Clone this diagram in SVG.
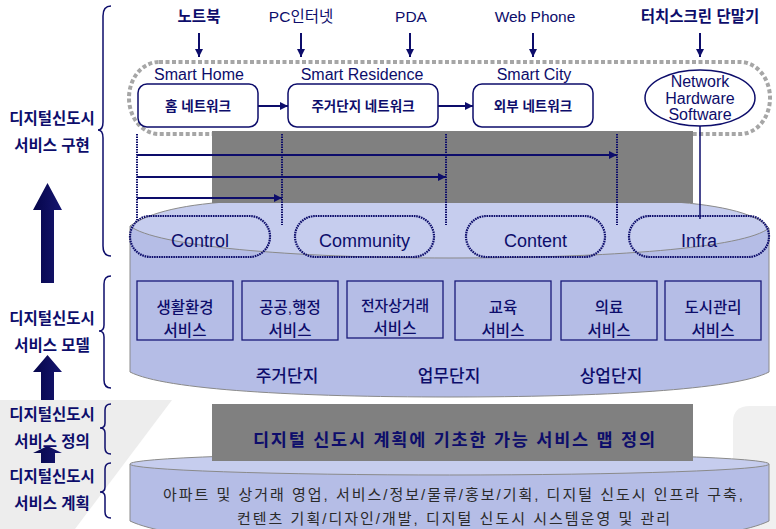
<svg xmlns="http://www.w3.org/2000/svg" width="776" height="529" viewBox="0 0 776 529">
<style>
text{font-family:"Liberation Sans","Noto Sans CJK KR",sans-serif;fill:#0d0d6b;text-anchor:middle}
.b{font-weight:bold}
.md{font-weight:500}
.ln{stroke:#0d0d6b;stroke-width:2;fill:none}
.dot{stroke:#0d0d6b;stroke-width:2;stroke-dasharray:1.6 0.9;fill:none}
.box{fill:none;stroke:#1a1a7a;stroke-width:1.3}
.rb{fill:#fff;stroke:#0d0d6b;stroke-width:1.5}
.pill{fill:none;stroke:#0d0d6b;stroke-width:2.2;stroke-dasharray:1.6 0.8}
.cyl{fill:#b5bde6;stroke:#8a8a8a;stroke-width:1}
.cylt{fill:#c6cdee;stroke:#8a8a8a;stroke-width:1}
.grey{fill:#808080}
.brace{fill:none;stroke:#0d0d6b;stroke-width:1.5}
.big{fill:url(#g)}
</style>
<defs>
<marker id="a" viewBox="0 0 10 10" refX="10" refY="5" markerWidth="10" markerHeight="8" markerUnits="userSpaceOnUse" orient="auto"><path d="M0,0L10,5L0,10z" fill="#0d0d6b"/></marker>
<linearGradient id="g" x1="0" y1="0" x2="1" y2="0"><stop offset="0" stop-color="#05054a"/><stop offset="1" stop-color="#161670"/></linearGradient>
</defs>

<g id="watermark">
<path d="M0,400 L172,400 L75,529 L0,529 Z" fill="#ededed"/>
<path d="M733,529 L733,422 Q733,406 750,406 L776,406 L776,529 Z" fill="#f0f0f0"/>
</g>

<g id="left-labels">
<path class="big" d="M47.5,183 L62,210 L54,210 L54,283 L41,283 L41,210 L33,210 Z"/>
<path class="big" d="M47.5,355 L62,372 L54,372 L54,400 L41,400 L41,372 L33,372 Z"/>
<path class="big" d="M47.5,446 L62,453 L55,453 L55,463 L41,463 L41,453 L33,453 Z"/>
<text class="b" x="52" y="124" font-size="15.5">디지털신도시</text>
<text class="b" x="52" y="151" font-size="15.5">서비스 구현</text>
<text class="b" x="52" y="324" font-size="15.5">디지털신도시</text>
<text class="b" x="52" y="351" font-size="15.5">서비스 모델</text>
<text class="b" x="52" y="420" font-size="15.5">디지털신도시</text>
<text class="b" x="52" y="447" font-size="15.5">서비스 정의</text>
<text class="b" x="52" y="482" font-size="15.5">디지털신도시</text>
<text class="b" x="52" y="509" font-size="15.5">서비스 계획</text>
<path class="brace" d="M111,6 Q103,6 103,16 L103,122 Q103,130 98,130 Q103,130 103,138 L103,246 Q103,256 111,256"/>
<path class="brace" d="M111,276 Q104,276 104,284 L104,325 Q104,331 99,331 Q104,331 104,337 L104,380 Q104,388 111,388"/>
<path class="brace" d="M111,404 Q105,404 105,410 L105,423 Q105,428 100,428 Q105,428 105,433 L105,448 Q105,454 111,454"/>
<path class="brace" d="M111,463 Q105,463 105,469 L105,487 Q105,492 100,492 Q105,492 105,497 L105,512 Q105,518 111,518"/>
</g>

<g id="devices">
<text class="b" x="199" y="22" font-size="15.5">노트북</text>
<text x="301" y="22" font-size="15.5">PC인터넷</text>
<text x="411" y="22" font-size="15.5">PDA</text>
<text x="535" y="22" font-size="15.5">Web Phone</text>
<text class="b" x="700" y="22" font-size="15.5">터치스크린 단말기</text>
</g>

<rect id="smart-group" x="129" y="62" width="641" height="72" rx="30" ry="36" fill="none" stroke="#a6a6a6" stroke-width="4" stroke-dasharray="4 2.5"/>

<g id="smart-home">
<text x="199" y="80" font-size="16">Smart Home</text>
<rect class="rb" x="138" y="84" width="120" height="43" rx="9"/>
<text class="b" x="198" y="111" font-size="13.5">홈 네트워크</text>
</g>
<g id="smart-residence">
<text x="362" y="80" font-size="16">Smart Residence</text>
<rect class="rb" x="288" y="84" width="150" height="43" rx="9"/>
<text class="b" x="363" y="111" font-size="13.5">주거단지 네트워크</text>
</g>
<g id="smart-city">
<text x="534" y="80" font-size="16">Smart City</text>
<rect class="rb" x="473" y="84" width="120" height="43" rx="9"/>
<text class="b" x="533" y="111" font-size="13.5">외부 네트워크</text>
</g>
<g id="nhs">
<ellipse class="rb" cx="700" cy="98" rx="55" ry="28"/>
<text x="700" y="87" font-size="16">Network</text>
<text x="700" y="104" font-size="16">Hardware</text>
<text x="700" y="120" font-size="16">Software</text>
</g>

<g id="service-model">
<path class="cyl" d="M130,226 L130,372 C165,390 300,397 449,397 C600,397 735,390 769,372 L769,228 Z"/>
<path class="cylt" d="M130,226 C150,212 185,204 240,201 L660,201 C715,204 755,212 769,228 C745,248 610,258 449,258 C290,258 155,246 130,226 Z"/>
<rect class="grey" x="212" y="131" width="481" height="72"/>
</g>

<g id="connectors">
<line class="ln" x1="199" y1="33" x2="199" y2="57" marker-end="url(#a)"/>
<line class="ln" x1="301" y1="33" x2="301" y2="57" marker-end="url(#a)"/>
<line class="ln" x1="410" y1="33" x2="410" y2="57" marker-end="url(#a)"/>
<line class="ln" x1="533" y1="33" x2="533" y2="57" marker-end="url(#a)"/>
<line class="ln" x1="700" y1="33" x2="700" y2="57" marker-end="url(#a)"/>
<line class="ln" x1="258" y1="106" x2="288" y2="106" marker-end="url(#a)"/>
<line class="ln" x1="438" y1="106" x2="473" y2="106" marker-end="url(#a)"/>
<line class="dot" x1="137" y1="134" x2="137" y2="220"/>
<line class="dot" x1="282" y1="134" x2="282" y2="225"/>
<line class="dot" x1="446" y1="134" x2="446" y2="225"/>
<line class="dot" x1="617" y1="134" x2="617" y2="225"/>
<line class="ln" x1="137" y1="155" x2="617" y2="155" marker-end="url(#a)"/>
<line class="ln" x1="137" y1="177" x2="446" y2="177" marker-end="url(#a)"/>
<line class="ln" x1="137" y1="198" x2="282" y2="198" marker-end="url(#a)"/>
<line x1="700" y1="126" x2="700" y2="219" stroke="#0d0d6b" stroke-width="1.5"/>
</g>

<g id="control"><rect class="pill" x="130" y="216" width="140" height="41" rx="20.5"/><text x="200" y="247" font-size="18">Control</text></g>
<g id="community"><rect class="pill" x="295" y="216" width="139" height="41" rx="20.5"/><text x="364.5" y="247" font-size="18">Community</text></g>
<g id="content"><rect class="pill" x="466" y="216" width="139" height="41" rx="20.5"/><text x="535.5" y="247" font-size="18">Content</text></g>
<g id="infra"><rect class="pill" x="629" y="216" width="140" height="41" rx="20.5"/><text x="699" y="247" font-size="18">Infra</text></g>

<g id="svc-life"><rect class="box" x="137" y="281" width="96" height="59"/><text class="md" x="185" y="313" font-size="15.5">생활환경</text><text class="md" x="185" y="336" font-size="15.5">서비스</text></g>
<g id="svc-public"><rect class="box" x="242" y="281" width="96" height="59"/><text class="md" x="290" y="313" font-size="15.5">공공,행정</text><text class="md" x="290" y="336" font-size="15.5">서비스</text></g>
<g id="svc-ecom"><rect class="box" x="347" y="281" width="96" height="57"/><text class="md" x="395" y="311" font-size="14.8">전자상거래</text><text class="md" x="395" y="334" font-size="15.5">서비스</text></g>
<g id="svc-edu"><rect class="box" x="455" y="281" width="96" height="59"/><text class="md" x="503" y="313" font-size="15.5">교육</text><text class="md" x="503" y="336" font-size="15.5">서비스</text></g>
<g id="svc-med"><rect class="box" x="561" y="281" width="96" height="59"/><text class="md" x="609" y="313" font-size="15.5">의료</text><text class="md" x="609" y="336" font-size="15.5">서비스</text></g>
<g id="svc-city"><rect class="box" x="665" y="281" width="96" height="59"/><text class="md" x="713" y="313" font-size="15.5">도시관리</text><text class="md" x="713" y="336" font-size="15.5">서비스</text></g>

<g id="zones">
<text class="md" x="287" y="382" font-size="17">주거단지</text>
<text class="md" x="449" y="382" font-size="17">업무단지</text>
<text class="md" x="611" y="382" font-size="17">상업단지</text>
</g>

<g id="service-plan">
<path class="cyl" d="M130,464 L130,521 C170,540 300,548 449,548 C600,548 730,540 769,521 L769,464 Z"/>
<ellipse class="cylt" cx="449.5" cy="464" rx="319.5" ry="11"/>
<text x="453" y="500" font-size="15" textLength="580" style="fill:#2a2a2a">아파트 및 상거래 영업, 서비스/정보/물류/홍보/기획, 디지털 신도시 인프라 구축,</text>
<text x="453.5" y="524" font-size="15" textLength="433" style="fill:#2a2a2a">컨텐츠 기획/디자인/개발, 디지털 신도시 시스템운영 및 관리</text>
</g>

<g id="service-definition">
<rect class="grey" x="212" y="404" width="481" height="57"/>
<text class="b" x="454" y="446" font-size="17.5" textLength="402">디지털 신도시 계획에 기초한 가능 서비스 맵 정의</text>
</g>
</svg>
